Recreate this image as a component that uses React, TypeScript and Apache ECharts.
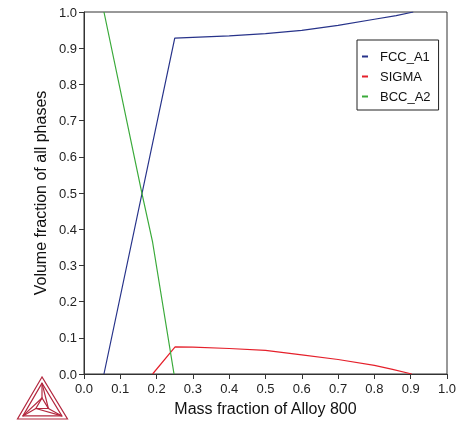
import React, { useEffect, useRef } from "react";
import * as echarts from "echarts";

const xTicks = [0, 0.1, 0.2, 0.3, 0.4, 0.5, 0.6, 0.7, 0.8, 0.9, 1.0];
const yTicks = [0, 0.1, 0.2, 0.3, 0.4, 0.5, 0.6, 0.7, 0.8, 0.9, 1.0];

const seriesNames = ["FCC_A1", "SIGMA", "BCC_A2"];

const fccX = [0.055, 0.25, 0.3, 0.4, 0.5, 0.6, 0.7, 0.8, 0.86, 0.907];
const fccY = [0.0, 0.928, 0.93, 0.934, 0.94, 0.949, 0.963, 0.98, 0.99, 1.0];

const sigmaX = [0.189, 0.251, 0.3, 0.4, 0.5, 0.6, 0.7, 0.8, 0.85, 0.903];
const sigmaY = [0.0, 0.075, 0.0745, 0.0705, 0.065, 0.053, 0.04, 0.024, 0.013, 0.0];

const bccX = [0.055, 0.159, 0.189, 0.248];
const bccY = [1.0, 0.502, 0.364, 0.0];

const colors = ["#27338a", "#e5202b", "#3aaa3a"];

const zip = (xs: number[], ys: number[]) => xs.map((x, i) => [x, ys[i]]);

export default function App() {
  const ref = useRef<HTMLDivElement>(null);
  useEffect(() => {
    if (!ref.current) return;
    const chart = echarts.init(ref.current, null, { renderer: "svg" });
    const font = "'Liberation Sans', Arial, sans-serif";
    const logoColor = "#b3283f";
    const A = [42, 377];
    const B = [17.5, 419];
    const C = [67.5, 419];
    const O = [42, 405];
    const ins = (p: number[], k: number) => [p[0] + (O[0] - p[0]) * k, p[1] + (O[1] - p[1]) * k];
    const A1 = ins(A, 0.22), B1 = ins(B, 0.22), C1 = ins(C, 0.22);
    const A2 = ins(A, 0.75), B2 = ins(B, 0.75), C2 = ins(C, 0.75);
    const ls = { stroke: logoColor, lineWidth: 1.2, fill: null };
    const axisLabel = {
      fontFamily: font,
      fontSize: 13,
      color: "#222",
      margin: 7,
      formatter: (v: number) => v.toFixed(1),
    };
    chart.setOption({
      animation: false,
      color: colors,
      grid: {
        left: 84,
        right: 19,
        top: 12,
        bottom: 45,
        show: true,
        borderColor: "#333",
        borderWidth: 1,
      },
      legend: {
        show: true,
        orient: "vertical",
        left: 357,
        top: 40,
        width: 80,
        data: seriesNames,
        icon: "rect",
        itemWidth: 6,
        itemHeight: 2,
        itemGap: 7,
        padding: [10, 8, 7, 5],
        borderColor: "#222",
        borderWidth: 1,
        backgroundColor: "#fff",
        textStyle: { fontFamily: font, fontSize: 13, color: "#111", padding: [0, 0, 0, 7] },
      },
      xAxis: {
        type: "value",
        min: 0,
        max: 1,
        interval: 0.1,
        name: "Mass fraction of Alloy 800",
        nameLocation: "middle",
        nameGap: 26,
        nameTextStyle: { fontFamily: font, fontSize: 16, color: "#111" },
        axisLine: { show: true, lineStyle: { color: "#333", width: 1 } },
        axisTick: { show: true, inside: false, length: 5, lineStyle: { color: "#333" } },
        axisLabel: { ...axisLabel, margin: 8 },
        splitLine: { show: false },
      },
      yAxis: {
        type: "value",
        min: 0,
        max: 1,
        interval: 0.1,
        name: "Volume fraction of all phases",
        nameLocation: "middle",
        nameGap: 30,
        nameTextStyle: { fontFamily: font, fontSize: 16, color: "#111" },
        axisLine: { show: true, lineStyle: { color: "#333", width: 1 } },
        axisTick: { show: true, inside: false, length: 5, lineStyle: { color: "#333" } },
        axisLabel,
        splitLine: { show: false },
      },
      series: [
        { name: seriesNames[0], type: "line", data: zip(fccX, fccY), symbol: "none", lineStyle: { width: 1.2 } },
        { name: seriesNames[1], type: "line", data: zip(sigmaX, sigmaY), symbol: "none", lineStyle: { width: 1.2 } },
        { name: seriesNames[2], type: "line", data: zip(bccX, bccY), symbol: "none", lineStyle: { width: 1.2 } },
      ],
      graphic: [
        {
          type: "group",
          children: [
            { type: "polygon", shape: { points: [A, B, C] }, style: ls },
            { type: "polygon", shape: { points: [A1, B1, C1] }, style: ls },
            { type: "polygon", shape: { points: [A2, B2, C2] }, style: ls },
            { type: "line", shape: { x1: A1[0], y1: A1[1], x2: A2[0], y2: A2[1] }, style: ls },
            { type: "line", shape: { x1: B1[0], y1: B1[1], x2: B2[0], y2: B2[1] }, style: ls },
            { type: "line", shape: { x1: C1[0], y1: C1[1], x2: C2[0], y2: C2[1] }, style: ls },
            { type: "line", shape: { x1: B1[0], y1: B1[1], x2: A2[0], y2: A2[1] }, style: ls },
            { type: "line", shape: { x1: C1[0], y1: C1[1], x2: B2[0], y2: B2[1] }, style: ls },
            { type: "line", shape: { x1: A1[0], y1: A1[1], x2: C2[0], y2: C2[1] }, style: ls },
          ],
        },
      ],
    });
    return () => chart.dispose();
  }, []);
  return <div ref={ref} style={{ position: "fixed", left: 0, top: 0, width: 466, height: 421 }} />;
}
